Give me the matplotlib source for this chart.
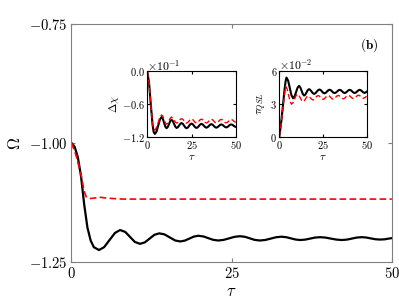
import matplotlib
matplotlib.use("Agg")
import matplotlib.pyplot as plt

plt.rcParams['font.family'] = 'serif'
plt.rcParams['font.serif'] = ['cmr10', 'DejaVu Serif']
plt.rcParams['mathtext.fontset'] = 'cm'
plt.rcParams['axes.unicode_minus'] = False

# main panel: Omega vs tau (black solid, red dashed)
tau_b = [0, 0.5, 1.0, 1.5, 2.0, 2.5, 3.0, 3.5, 4.3,
         5.1, 5.95, 6.8, 7.6, 8.4, 9.15, 9.9, 10.7, 11.45, 12.2, 12.95, 13.7,
         14.5, 15.35, 16.2, 17.0, 17.7, 18.4, 19.1, 19.8, 20.6, 21.35, 22.1, 22.9,
         23.75, 24.6, 25.45, 26.3, 27.1, 27.85, 28.6, 29.4, 30.25, 31.1, 31.95, 32.8,
         33.5, 34.25, 35.0, 35.7, 36.5, 37.25, 38.0, 38.8, 39.65, 40.5, 41.35, 42.2,
         43.0, 43.75, 44.5, 45.3, 46.0, 46.7, 47.4, 48.1, 48.9, 49.5, 50.0]
omega_b = [-1.000, -1.008, -1.030, -1.070, -1.130, -1.178, -1.205, -1.219, -1.225,
           -1.219, -1.204, -1.189, -1.183, -1.187, -1.1975, -1.208, -1.212, -1.209,
           -1.201, -1.193, -1.190, -1.192, -1.1985, -1.205, -1.207, -1.2052, -1.201,
           -1.1968, -1.195, -1.1965, -1.200, -1.2035, -1.205, -1.2037, -1.2005,
           -1.1973, -1.196, -1.1973, -1.2005, -1.2037, -1.205, -1.2039, -1.201,
           -1.1981, -1.197, -1.198, -1.2005, -1.203, -1.204, -1.2031, -1.201, -1.1989,
           -1.198, -1.1989, -1.201, -1.2031, -1.204, -1.2031, -1.201, -1.1989, -1.198,
           -1.1987, -1.2005, -1.2023, -1.203, -1.2025, -1.201, -1.200]
tau_r = [0, 0.7, 1.5, 2.0, 2.3, 2.8, 3.5, 4.4, 5.5, 8.0, 20, 35, 50]
omega_r = [-1.000, -1.025, -1.067, -1.102, -1.113, -1.117, -1.116, -1.114, -1.116,
           -1.118, -1.118, -1.118, -1.118]

# inset 1: Delta chi in units of 1e-1
tau_c = [0, 1, 2, 3, 3.6, 4.3, 5.25, 6.2, 7.15, 8.1, 8.8, 9.5, 10.2, 10.9,
         11.6, 12.3, 13.0, 13.7, 14.4, 15.15, 15.9, 16.6, 17.3, 18.0, 18.7, 19.4,
         20.1, 20.8, 21.5, 22.2, 22.9, 23.6, 24.3, 25.0, 25.7, 26.4, 27.1, 27.8,
         28.5, 29.2, 29.9, 30.6, 31.3, 32.0, 32.7, 33.4, 34.1, 34.8, 35.5, 36.2,
         36.9, 37.6, 38.3, 39.0, 39.7, 40.4, 41.1, 41.8, 42.5, 43.2, 43.9, 44.6,
         45.3, 46.0, 46.7, 47.4, 48.1, 48.8, 49.5, 50]
chi_b = [0.0, -0.2, -0.6, -0.98, -1.11, -1.15, -1.105, -0.995, -0.885, -0.84,
         -0.87, -0.9425, -1.015, -1.045, -1.022, -0.9675, -0.913, -0.89,
         -0.912, -0.965, -1.018, -1.04, -1.027, -0.995, -0.963, -0.95,
         -0.964, -0.9975, -1.031, -1.045, -1.033, -1.0025, -0.972, -0.96,
         -0.972, -1.0, -1.028, -1.04, -1.029, -1.0025, -0.976, -0.965,
         -0.975, -1.0, -1.025, -1.035, -1.0255, -1.0025, -0.9795, -0.97,
         -0.9795, -1.0025, -1.0255, -1.035, -1.026, -1.005, -0.984, -0.975,
         -0.983, -1.0025, -1.022, -1.03, -1.022, -1.0025, -0.983, -0.975,
         -0.983, -1.0, -1.016, -1.02]
chi_r = [0.0, -0.2, -0.6, -0.96, -1.06, -1.08, -1.03, -0.94, -0.845, -0.80,
         -0.825, -0.885, -0.945, -0.97, -0.95, -0.905, -0.86, -0.84,
         -0.856, -0.895, -0.934, -0.95, -0.94, -0.91, -0.88, -0.87,
         -0.88, -0.91, -0.94, -0.95, -0.94, -0.912, -0.885, -0.875,
         -0.885, -0.912, -0.94, -0.95, -0.94, -0.914, -0.888, -0.878,
         -0.888, -0.913, -0.938, -0.948, -0.938, -0.914, -0.89, -0.88,
         -0.89, -0.914, -0.938, -0.948, -0.938, -0.915, -0.892, -0.882,
         -0.892, -0.915, -0.938, -0.946, -0.937, -0.915, -0.893, -0.884,
         -0.893, -0.912, -0.93, -0.935]

# inset 2: tau_QSL in units of 1e-2
tau_qb = [0, 1, 2, 3, 3.6, 4.1, 5.05, 6.0, 6.95, 7.9, 8.75, 9.6, 10.45, 11.3,
          12.0, 12.75, 13.5, 14.2, 14.9, 15.6, 16.3, 17.0, 17.7, 18.45, 19.2, 19.9,
          20.65, 21.45, 22.2, 23.0, 23.7, 24.4, 25.1, 25.8, 26.55, 27.3, 28.05, 28.8,
          29.5, 30.2, 30.9, 31.6, 32.35, 33.1, 33.85, 34.6, 35.3, 36.0, 36.7, 37.4,
          38.1, 38.85, 39.6, 40.3, 41.0, 41.7, 42.4, 43.1, 43.8, 44.55, 45.3, 46.0,
          46.7, 47.4, 48.1, 48.8, 49.4, 50]
qsl_b = [0, 1.2, 2.7, 4.3, 5.05, 5.39, 5.11, 4.445, 3.78, 3.5, 3.665, 4.065, 4.465,
         4.63, 4.50, 4.19, 3.88, 3.75, 3.835, 4.04, 4.245, 4.33, 4.267, 4.115, 3.963,
         3.9, 3.958, 4.1, 4.242, 4.3, 4.249, 4.125, 4.001, 3.95, 3.998, 4.115, 4.232,
         4.28, 4.235, 4.125, 4.015, 3.97, 4.014, 4.12, 4.226, 4.27, 4.228, 4.125,
         4.022, 3.98, 4.022, 4.125, 4.228, 4.27, 4.228, 4.125, 4.022, 3.98, 4.022,
         4.125, 4.228, 4.27, 4.229, 4.13, 4.031, 3.99, 4.03, 4.1]
tau_qr = [0, 1, 2, 3, 3.7, 4.5, 5.35, 6.2, 7.0, 7.85, 8.7, 9.55, 10.4, 11.2, 12.0,
          12.8, 13.6, 14.3, 15.0, 15.7, 16.4, 17.1, 17.85, 18.6, 19.3, 20.0, 20.75,
          21.5, 22.2, 22.9, 23.6, 24.3, 25.0, 25.7, 26.45, 27.2, 27.9, 28.6, 29.35,
          30.1, 30.8, 31.5, 32.25, 33.0, 33.7, 34.4, 35.15, 35.9, 36.6, 37.3, 38.05,
          38.8, 39.5, 40.2, 40.95, 41.7, 42.4, 43.1, 43.85, 44.6, 45.3, 46.0, 46.75,
          47.5, 48.2, 48.9, 50]
qsl_r = [0, 1.1, 2.5, 3.9, 4.57, 4.335, 3.765, 3.195, 2.96, 3.093, 3.415, 3.737,
         3.87, 3.772, 3.535, 3.298, 3.2, 3.273, 3.45, 3.627, 3.7, 3.649, 3.525,
         3.401, 3.35, 3.408, 3.55, 3.692, 3.75, 3.699, 3.575, 3.451, 3.4, 3.451,
         3.575, 3.699, 3.75, 3.702, 3.585, 3.468, 3.42, 3.47, 3.59, 3.71, 3.76,
         3.715, 3.605, 3.495, 3.45, 3.497, 3.61, 3.723, 3.77, 3.726, 3.62, 3.514,
         3.47, 3.515, 3.625, 3.735, 3.78, 3.739, 3.64, 3.541, 3.5, 3.55, 3.68]

x_ticks = [0, 25, 50]
main_yticks = [-1.25, -1.00, -0.75]
main_ylabels = [r'$-1.25$', r'$-1.00$', r'$-0.75$']
chi_ticks = [-1.2, -0.6, 0.0]
chi_labels = [r'$-1.2$', r'$-0.6$', r'$0.0$']
qsl_ticks = [0, 3, 6]
qsl_labels = [r'$0$', r'$3$', r'$6$']

fig = plt.figure(figsize=(3.99, 2.99), dpi=100)
ax = fig.add_axes([0.179, 0.124, 0.803, 0.796])
ax.plot(tau_b, omega_b, color='black', lw=1.6)
ax.plot(tau_r, omega_r, color='red', lw=1.2, ls='--', dashes=(4, 2))
ax.set_xlim(0, 50)
ax.set_ylim(-1.25, -0.75)
ax.set_xticks(x_ticks)
ax.set_xticklabels([r'$%d$' % t for t in x_ticks])
ax.set_yticks(main_yticks)
ax.set_yticklabels(main_ylabels)
ax.tick_params(direction='in', top=True, right=True, labelsize=10.5, length=3,
               color='gray', pad=3)
for s in ax.spines.values():
    s.set_color('gray')
ax.set_xlabel(r'$\tau$', fontsize=12, labelpad=2)
ax.set_ylabel(r'$\Omega$', fontsize=12, labelpad=4)
ax.text(0.93, 0.91, r'$\mathbf{(b)}$', transform=ax.transAxes, ha='center',
        va='center', fontsize=9.5)


def make_inset(rect, xb, yb, xr, yr, yticks, ylabels, ylim, ylabel, expo):
    a = fig.add_axes(rect)
    a.plot(xb, yb, color='black', lw=1.5)
    a.plot(xr, yr, color='red', lw=1.0, ls='--', dashes=(4, 2))
    a.set_xlim(0, 50)
    a.set_ylim(*ylim)
    a.set_xticks(x_ticks)
    a.set_xticklabels([r'$%d$' % t for t in x_ticks])
    a.set_yticks(yticks)
    a.set_yticklabels(ylabels)
    a.tick_params(direction='in', top=True, right=True, labelsize=7.5,
                  length=2.5, pad=1.5)
    a.set_xlabel(r'$\tau$', fontsize=8, labelpad=1.5)
    a.set_ylabel(ylabel, fontsize=8, labelpad=1)
    a.text(0.0, 0.98, r'$\times10^{%d}$' % expo, transform=a.transAxes,
           ha='left', va='bottom', fontsize=8.5)
    return a


make_inset([0.369, 0.543, 0.222, 0.218], tau_c, chi_b, tau_c, chi_r,
           chi_ticks, chi_labels, (-1.2, 0.0), r'$\Delta\chi$', -1)
make_inset([0.700, 0.543, 0.219, 0.220], tau_qb, qsl_b, tau_qr, qsl_r,
           qsl_ticks, qsl_labels, (0, 6), r'$\tau_{QSL}$', -2)

fig.savefig('out.png', dpi=100)
